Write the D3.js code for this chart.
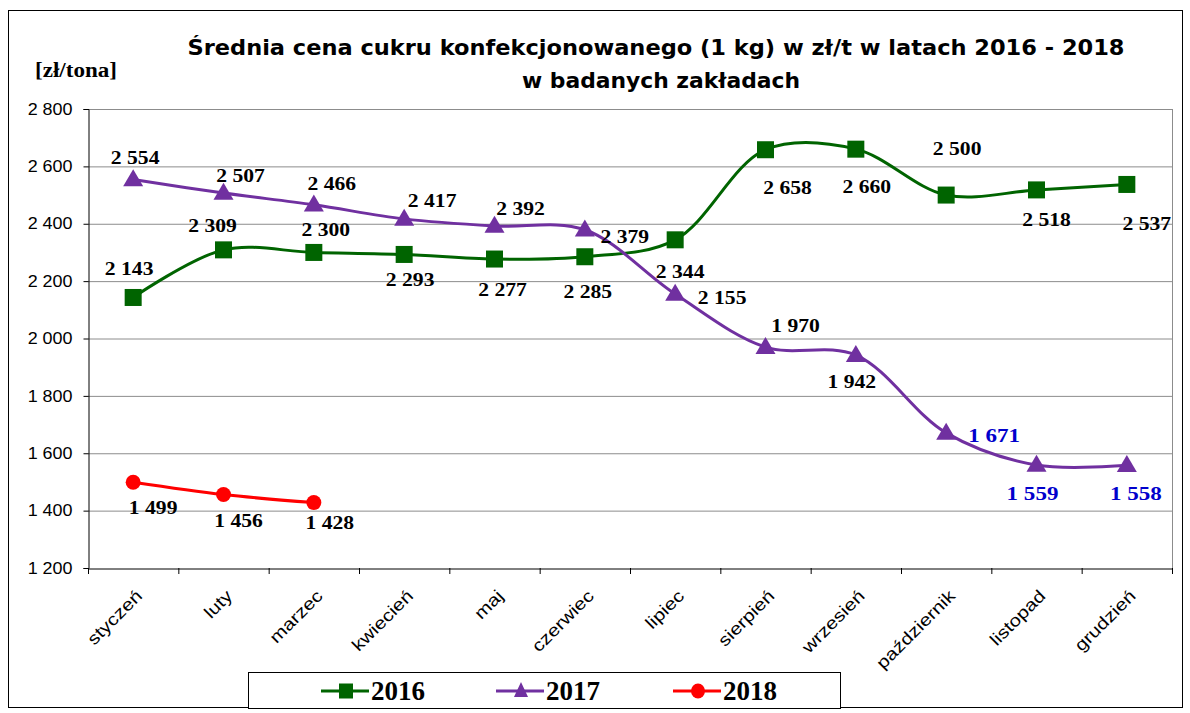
<!DOCTYPE html>
<html><head><meta charset="utf-8">
<script src="https://cdn.jsdelivr.net/npm/d3@7"></script>
<style>body{margin:0;background:#fff}svg{display:block}</style>
</head><body>
<script>
const months = ["styczeń","luty","marzec","kwiecień","maj","czerwiec","lipiec","sierpień","wrzesień","październik","listopad","grudzień"];
const v2016 = [2143,2309,2300,2293,2277,2285,2344,2658,2660,2500,2518,2537];
const v2017 = [2554,2507,2466,2417,2392,2379,2155,1970,1942,1671,1559,1558];
const v2018 = [1499,1456,1428];
const yTicks = [1200,1400,1600,1800,2000,2200,2400,2600,2800];
const titleLines = ["Średnia cena cukru konfekcjonowanego (1 kg) w zł/t w latach 2016 - 2018","w badanych zakładach"];
const yUnit = "[zł/tona]";
const seriesNames = ["2016","2017","2018"];
// label offsets (dx, dy) relative to point — placement only
const off2016 = [[-4,-28],[-11,-24],[12,-22],[6,26],[8,31],[3,35],[5,32],[22,38],[11,38],[11,-46],[10,30],[20,40]];
const off2017 = [[2,-22],[17,-17],[18,-21],[28,-18],[26,-17],[40,7],[47,4],[30,-21],[-4,27],[48,3],[-4,29],[9,29]];
const off2018 = [[20,26],[15,26],[16,20]];
const blue2017 = [false,false,false,false,false,false,false,false,false,true,true,true];

const W=1190,H=713;
const svg=d3.select("body").append("svg").attr("width",W).attr("height",H);
const m={l:88,r:1172,t:109,b:568};
const x=d3.scaleBand().domain(months).range([m.l,m.r]);
const y=d3.scaleLinear().domain([1200,2800]).range([m.b,m.t]);
const fmt=v=>d3.format(",")(v).replace(/,/g," ");
function stretch(sel,f){sel.each(function(){const l=this.getComputedTextLength();d3.select(this).attr("textLength",l*f).attr("lengthAdjust","spacingAndGlyphs");});}

svg.append("rect").attr("x",8.5).attr("y",10.5).attr("width",1174).attr("height",697).attr("fill","#fff").attr("stroke","#000").attr("stroke-width",1);

// title
svg.append("text").attr("x",656).attr("y",55).attr("text-anchor","middle")
  .attr("font-family","DejaVu Sans").attr("font-weight","bold").attr("font-size",21)
  .attr("textLength",937).attr("lengthAdjust","spacingAndGlyphs").text(titleLines[0]);
svg.append("text").attr("x",661).attr("y",88).attr("text-anchor","middle")
  .attr("font-family","DejaVu Sans").attr("font-weight","bold").attr("font-size",21)
  .attr("textLength",278).attr("lengthAdjust","spacingAndGlyphs").text(titleLines[1]);
svg.append("text").attr("x",35).attr("y",77).attr("font-family","Liberation Serif").attr("font-weight","bold").attr("font-size",20)
  .attr("textLength",82).attr("lengthAdjust","spacingAndGlyphs").text(yUnit);

// grid
svg.append("g").selectAll("line").data(yTicks.filter(d=>d>1200)).join("line")
  .attr("x1",m.l).attr("x2",m.r).attr("y1",d=>y(d)+0.5).attr("y2",d=>y(d)+0.5).attr("stroke","#8c8c8c").attr("stroke-width",1);
svg.append("line").attr("x1",m.r+0.5).attr("x2",m.r+0.5).attr("y1",m.t).attr("y2",m.b).attr("stroke","#8c8c8c");

// y axis
const ya=svg.append("g").attr("transform",`translate(${m.l+0.5},0)`)
  .call(d3.axisLeft(y).tickValues(yTicks).tickSize(5).tickPadding(11).tickFormat(fmt));
ya.select(".domain").attr("stroke","#000");
ya.selectAll("line").attr("stroke","#000");
const yt=ya.selectAll("text").attr("font-family","Liberation Sans").attr("font-size",16).attr("fill","#000");
stretch(yt,1.12);
// x axis
const xa=svg.append("g").attr("transform",`translate(0,${m.b+0.5})`)
  .call(d3.axisBottom(x).tickSize(0).tickFormat(""));
xa.select(".domain").attr("stroke","#000");
svg.append("g").selectAll("line").data(d3.range(months.length+1)).join("line")
  .attr("x1",i=>m.l+i*x.step()+0.5).attr("x2",i=>m.l+i*x.step()+0.5)
  .attr("y1",m.b).attr("y2",m.b+6).attr("stroke","#000");
const xt=svg.append("g").selectAll("text").data(months).join("text")
  .attr("transform",d=>`translate(${x(d)+x.bandwidth()/2+10},${m.b+29}) rotate(-45)`)
  .attr("text-anchor","end").attr("font-family","Liberation Sans").attr("font-size",17).text(d=>d);
stretch(xt,1.2);

const cx=i=>x(months[i])+x.bandwidth()/2;
const line=d3.line().x((d,i)=>cx(i)).y(d=>y(d)).curve(d3.curveCatmullRom.alpha(0.5));

function marker(g,shape,px,py,color,w,h){
  if(shape==="square") g.append("rect").attr("x",px-w/2).attr("y",py-h/2).attr("width",w).attr("height",h).attr("fill",color);
  else if(shape==="tri") g.append("path").attr("d",`M${px},${py-h*0.6}L${px+w/2},${py+h*0.4}L${px-w/2},${py+h*0.4}Z`).attr("fill",color);
  else g.append("ellipse").attr("cx",px).attr("cy",py).attr("rx",w/2).attr("ry",h/2).attr("fill",color);
}
function series(vals,color,shape,offs,blues,mw,mh){
  const g=svg.append("g");
  g.append("path").attr("d",line(vals)).attr("fill","none").attr("stroke",color).attr("stroke-width",3);
  vals.forEach((v,i)=>{
    const px=cx(i),py=y(v);
    marker(g,shape,px,py,color,mw,mh);
    const t=g.append("text").attr("x",px+offs[i][0]).attr("y",py+offs[i][1]+6).attr("text-anchor","middle")
      .attr("font-family","Liberation Serif").attr("font-weight","bold").attr("font-size",18)
      .attr("fill",blues&&blues[i]?"#0000cc":"#000").text(fmt(v));
    stretch(t,blues&&blues[i]?1.28:1.2);
  });
}
series(v2016,"#006400","square",off2016,null,17,17);
series(v2017,"#7030a0","tri",off2017,blue2017,20,17);
series(v2018,"#ff0000","circle",off2018,null,15,15);

// legend
const lg=svg.append("g");
lg.append("rect").attr("x",248.5).attr("y",672.5).attr("width",592).attr("height",36).attr("fill","#fff").attr("stroke","#000");
const legColors=["#006400","#7030a0","#ff0000"], legShapes=["square","tri","circle"], legX=[321,496,673];
seriesNames.forEach((t,k)=>{
  const lx=legX[k], ly=691, c=legColors[k];
  lg.append("line").attr("x1",lx).attr("x2",lx+48).attr("y1",ly).attr("y2",ly).attr("stroke",c).attr("stroke-width",3);
  marker(lg,legShapes[k],lx+25,ly,c,14,15);
  lg.append("text").attr("x",lx+50).attr("y",ly+9).attr("font-family","Liberation Serif").attr("font-weight","bold").attr("font-size",27).text(t);
});
</script>
</body></html>
